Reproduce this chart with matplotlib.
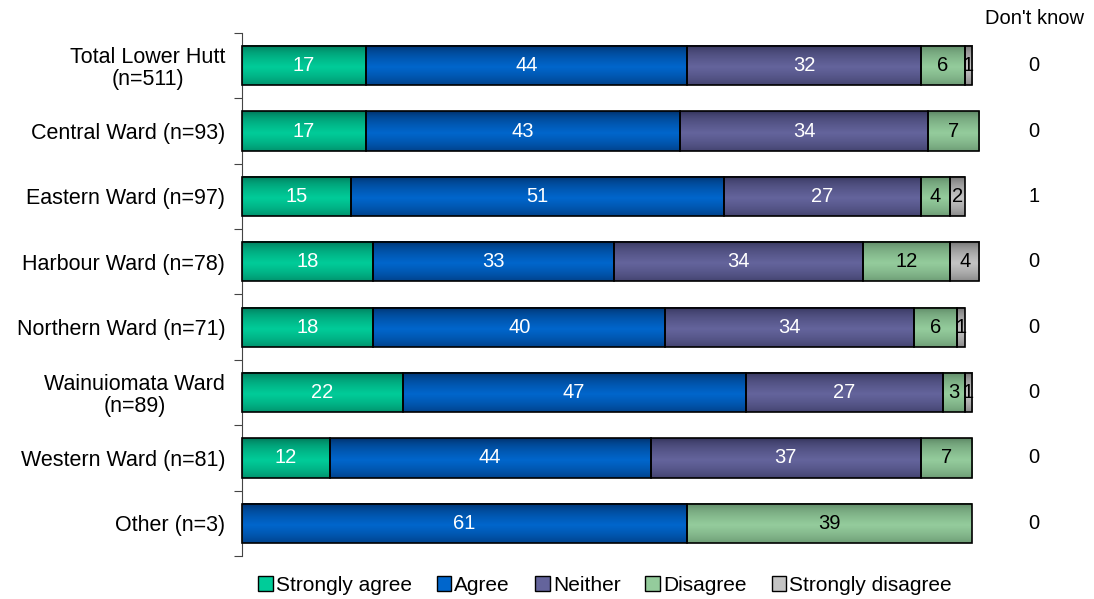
import numpy as np
import matplotlib
matplotlib.use("Agg")
import matplotlib.pyplot as plt
from matplotlib.patches import Rectangle

plt.rcParams["font.family"] = ["Liberation Sans", "DejaVu Sans"]

groups = [
    "Total Lower Hutt\n(n=511)",
    "Central Ward (n=93)",
    "Eastern Ward (n=97)",
    "Harbour Ward (n=78)",
    "Northern Ward (n=71)",
    "Wainuiomata Ward\n(n=89)",
    "Western Ward (n=81)",
    "Other (n=3)",
]
series = ["Strongly agree", "Agree", "Neither", "Disagree", "Strongly disagree"]
strongly_agree = [17, 17, 15, 18, 18, 22, 12, 0]
agree = [44, 43, 51, 33, 40, 47, 44, 61]
neither = [32, 34, 27, 34, 34, 27, 37, 0]
disagree = [6, 7, 4, 12, 6, 3, 7, 39]
strongly_disagree = [1, 0, 2, 4, 1, 1, 0, 0]
dont_know = [0, 0, 1, 0, 0, 0, 0, 0]

# (dark edge, light middle) for the gradient fill
shades = [
    ("#006a4e", "#00cc99"),
    ("#00285c", "#0066cc"),
    ("#2c2c50", "#64649c"),
    ("#527a5a", "#94cc9c"),
    ("#5e5e5e", "#c4c4c4"),
]
text_colors = ["white", "white", "white", "black", "black"]

values = [strongly_agree, agree, neither, disagree, strongly_disagree]

fig = plt.figure(figsize=(10.94, 5.99), dpi=100)
ax = fig.add_axes([0.2212, 0.0718, 0.6673, 0.8731])

n = len(groups)
ypos = np.arange(n)
height = 0.6


def gradient(dark, light):
    d = np.array(matplotlib.colors.to_rgb(dark))
    l = np.array(matplotlib.colors.to_rgb(light))
    t = np.linspace(0, 1, 60)
    # dark at both edges, lightest a bit below the middle
    w = np.clip(1 - np.abs(t - 0.55) / 0.55, 0, 1) ** 0.5
    return (d[None, :] * (1 - w[:, None]) + l[None, :] * w[:, None])[:, None, :]


for i in range(n):
    left = 0
    for s, vals in enumerate(values):
        v = vals[i]
        if v == 0:
            continue
        y0 = ypos[i] - height / 2
        img = gradient(*shades[s])
        ax.imshow(img, extent=[left, left + v, y0 + height, y0], aspect="auto",
                  zorder=2, clip_on=False, interpolation="bilinear")
        ax.add_patch(Rectangle((left, y0), v, height, fill=False,
                               edgecolor="black", linewidth=1.2, zorder=3,
                               clip_on=False))
        ax.text(left + v / 2, ypos[i], str(v), ha="center", va="center",
                fontsize=14.5, color=text_colors[s], zorder=4)
        left += v
    ax.text(108.5, ypos[i], str(dont_know[i]), ha="center", va="center",
            fontsize=14.5, clip_on=False)

ax.text(108.5, -0.72, "Don't know", ha="center", va="center", fontsize=14.5)

ax.set_xlim(0, 100)
ax.set_ylim(n - 0.5, -0.5)
ax.set_xticks([])
ax.set_yticks(np.arange(-0.5, n, 1))
ax.set_yticklabels([])
ax.set_yticks(ypos, minor=True)
ax.set_yticklabels(groups, minor=True, fontsize=15.5, multialignment="center",
                   linespacing=1.05)
ax.tick_params(axis="y", which="major", length=6, direction="out", color="#444444")
ax.tick_params(axis="y", which="minor", length=0, pad=12)
for side in ["top", "right", "bottom"]:
    ax.spines[side].set_visible(False)
ax.spines["left"].set_color("#444444")

handles = [Rectangle((0, 0), 1, 1, facecolor=shades[s][1], edgecolor="black",
                     linewidth=1) for s in range(len(series))]
fig.legend(handles, series, loc="center", bbox_to_anchor=(0.553, 0.023),
           ncol=5, frameon=False, fontsize=15, handlelength=0.7,
           handleheight=0.7, handletextpad=0.15, columnspacing=1.2)

fig.savefig("out.png", dpi=100)
